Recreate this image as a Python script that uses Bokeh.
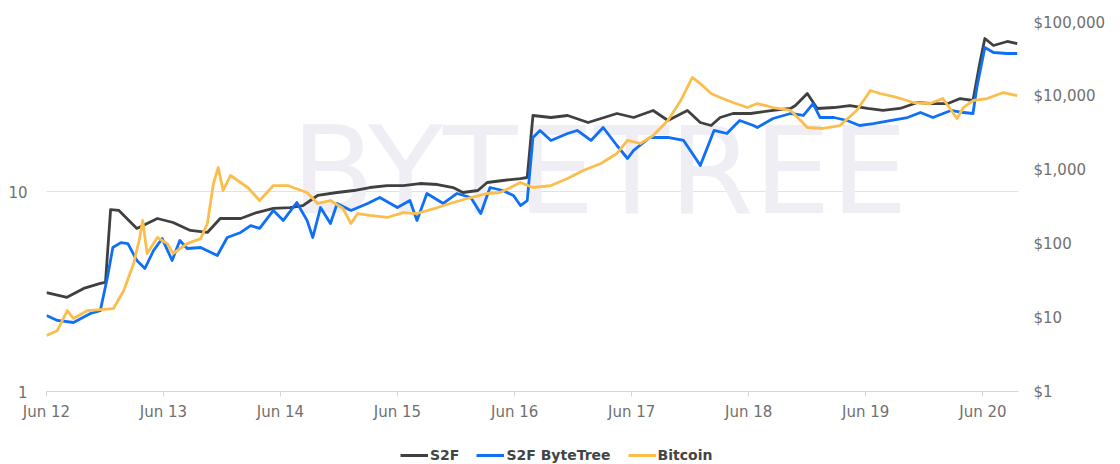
import pandas as pd
from bokeh.plotting import figure
from bokeh.layouts import column
from bokeh.models import (Range1d, LogAxis, LogScale, FixedTicker, DatetimeTickFormatter,
                          NumeralTickFormatter, Legend, LegendItem, Label)
from bokeh.embed import file_html
from bokeh.resources import INLINE

# ---------------- data ----------------
s2f_dates = ["2012-06-01", "2012-08-04", "2012-09-25", "2012-11-16", "2012-12-02", "2012-12-18",
             "2013-01-13", "2013-03-10", "2013-05-13", "2013-07-01", "2013-08-24", "2013-10-16",
             "2013-11-25", "2014-01-28", "2014-03-19", "2014-05-10", "2014-07-01", "2014-08-10",
             "2014-09-25", "2014-11-25", "2015-01-16", "2015-03-07", "2015-04-30", "2015-06-19",
             "2015-08-10", "2015-10-04", "2015-11-22", "2015-12-22", "2016-02-07", "2016-03-07",
             "2016-04-25", "2016-06-19", "2016-07-10", "2016-07-28", "2016-09-22", "2016-11-13",
             "2017-01-16", "2017-02-25", "2017-04-16", "2017-06-07", "2017-08-07", "2017-09-22",
             "2017-11-22", "2018-01-01", "2018-02-04", "2018-03-04", "2018-04-13", "2018-06-07",
             "2018-08-16", "2018-10-10", "2018-10-25", "2018-12-01", "2019-01-01", "2019-02-22",
             "2019-04-13", "2019-06-07", "2019-07-25", "2019-09-16", "2019-11-10", "2019-12-28",
             "2020-02-13", "2020-03-22", "2020-05-01", "2020-05-22", "2020-06-07", "2020-07-04",
             "2020-08-16", "2020-09-16"]
s2f_values = [21.9, 18.9, 24.9, 29.1, 30, 292, 284, 162, 221, 195, 152, 143, 221, 221, 266,
              302, 311, 331, 453, 497, 529, 581, 618, 618, 658, 638, 581, 497, 529, 679,
              723, 769, 794, 5495, 5160, 5495, 4416, 5000, 5848, 5160, 6427, 4699, 6427, 4416,
              4020, 5160, 5848, 5848, 6427, 6839, 7499, 10910, 6839, 7047, 7499, 6839, 6427,
              6839, 8241, 7980, 7980, 9333, 8770, 27800, 60700, 48800, 55300, 51900]

bytetree_dates = ["2012-06-01", "2012-07-05", "2012-08-24", "2012-10-16", "2012-11-16", "2012-12-08",
                  "2012-12-25", "2013-01-19", "2013-02-10", "2013-03-10", "2013-04-04", "2013-05-01",
                  "2013-05-28", "2013-06-28", "2013-07-22", "2013-08-14", "2013-09-25", "2013-11-16",
                  "2013-12-17", "2014-01-28", "2014-02-28", "2014-03-28", "2014-05-10", "2014-06-10",
                  "2014-07-22", "2014-08-23", "2014-09-10", "2014-10-04", "2014-11-04", "2014-11-25",
                  "2015-01-07", "2015-02-28", "2015-04-07", "2015-06-01", "2015-07-10", "2015-08-01",
                  "2015-09-01", "2015-10-22", "2015-12-04", "2016-01-16", "2016-02-16", "2016-03-16",
                  "2016-04-25", "2016-05-28", "2016-06-19", "2016-07-10", "2016-07-28", "2016-08-19",
                  "2016-09-22", "2016-11-13", "2016-12-13", "2017-01-25", "2017-03-04", "2017-04-16",
                  "2017-05-19", "2017-06-07", "2017-07-28", "2017-09-22", "2017-11-10", "2017-12-22",
                  "2018-01-01", "2018-02-13", "2018-03-25", "2018-05-04", "2018-06-16", "2018-06-28",
                  "2018-08-16", "2018-10-10", "2018-11-19", "2018-12-19", "2019-01-10", "2019-02-22",
                  "2019-04-04", "2019-05-13", "2019-06-25", "2019-08-16", "2019-10-10", "2019-11-19",
                  "2019-12-28", "2020-02-22", "2020-04-01", "2020-05-01", "2020-05-13", "2020-06-07",
                  "2020-07-04", "2020-08-16", "2020-09-16"]
bytetree_values = [10.7, 9.17, 8.61, 11.4, 12.5, 35.1, 89.4, 104, 101, 59.6, 46.4, 81.4, 118, 59.6,
                   111, 86.6, 89.4, 69.6, 122, 143, 177, 162, 284, 208, 364, 208, 122, 311, 189,
                   353, 284, 353, 425, 311, 387, 208, 482, 353, 482, 425, 258, 581, 529, 453, 331,
                   387, 2766, 3443, 2520, 3133, 3443, 2520, 3779, 2154, 1436, 1845, 2766, 2766,
                   2520, 1350, 1154, 3443, 3133, 4699, 4020, 3779, 5000, 5848, 5495, 7980, 5160,
                   5160, 4699, 4020, 4278, 4699, 5160, 6030, 5160, 6427, 6030, 5848, 13150, 45800,
                   39200, 38000, 38000]

btc_dates = ["2012-06-01", "2012-07-05", "2012-08-05", "2012-08-24", "2012-10-07", "2012-11-16",
             "2012-12-27", "2013-01-28", "2013-02-28", "2013-03-19", "2013-03-28", "2013-04-11",
             "2013-05-13", "2013-06-13", "2013-07-01", "2013-08-14", "2013-09-25", "2013-10-16",
             "2013-11-04", "2013-11-19", "2013-12-04", "2013-12-27", "2014-02-19", "2014-03-28",
             "2014-05-10", "2014-06-25", "2014-07-10", "2014-08-23", "2014-09-25", "2014-11-04",
             "2014-12-13", "2015-01-07", "2015-01-28", "2015-03-07", "2015-04-30", "2015-06-19",
             "2015-08-01", "2015-10-04", "2015-11-22", "2016-01-16", "2016-03-07", "2016-04-16",
             "2016-05-19", "2016-06-19", "2016-07-28", "2016-09-22", "2016-11-13", "2017-01-01",
             "2017-02-25", "2017-04-16", "2017-05-19", "2017-06-28", "2017-08-07", "2017-09-22",
             "2017-11-01", "2017-12-07", "2018-01-01", "2018-02-04", "2018-03-04", "2018-04-13",
             "2018-05-28", "2018-06-28", "2018-08-16", "2018-10-10", "2018-11-10", "2018-12-01",
             "2019-01-19", "2019-03-13", "2019-05-04", "2019-06-16", "2019-07-16", "2019-09-07",
             "2019-10-28", "2019-12-19", "2020-01-28", "2020-03-12", "2020-04-01", "2020-05-01",
             "2020-06-14", "2020-08-04", "2020-09-16"]
btc_values = [5.74, 6.71, 12.5, 9.75, 12.5, 12.9, 13.3, 23.4, 54.2, 122, 208, 74.1, 122, 101,
              74.1, 101, 118, 189, 658, 1085, 529, 845, 581, 387, 618, 618, 581, 497, 353, 387,
              302, 189, 258, 243, 228, 266, 258, 311, 364, 425, 482, 497, 581, 679, 581, 618,
              769, 988, 1228, 1679, 2520, 2293, 2943, 4699, 8770, 17990, 14890, 10910, 9638,
              8241, 7047, 7980, 7047, 6427, 4699, 3779, 3664, 4020, 6427, 11990, 10910, 9638,
              8241, 7980, 9333, 5000, 7047, 8770, 9333, 11250, 10250]

tick_dates = ["2012-06-01", "2013-06-01", "2014-06-01", "2015-06-01", "2016-06-01",
              "2017-06-01", "2018-06-01", "2019-06-01", "2020-06-01"]
left_ticks = [1, 10]
usd_ticks = [1, 10, 100, 1000, 10000, 100000]
series_names = ["S2F", "S2F ByteTree", "Bitcoin"]
series_colors = ["#404040", "#0f6ff5", "#fbbd4b"]

# ---------------- main figure ----------------
def ms(d):
    return pd.Timestamp(d).value / 1e6

FONT = "DejaVu Sans"
LABEL_COLOR = "#707070"
p = figure(width=1120, height=430, x_axis_type="datetime", y_axis_type="log",
           x_range=Range1d(ms("2012-06-01"), ms("2020-09-20")),
           y_range=Range1d(1, 70.2),
           output_backend="svg", toolbar_location=None,
           min_border_left=46, min_border_right=102, min_border_top=22, min_border_bottom=39)
p.outline_line_color = None
p.background_fill_color = "white"
p.border_fill_color = "white"

p.extra_y_ranges = {"usd": Range1d(1, 100000)}
p.extra_y_scales = {"usd": LogScale()}

la = p.left[0]
la.ticker = FixedTicker(ticks=left_ticks)
la.formatter = NumeralTickFormatter(format="0,0")
la.axis_line_color = None
la.major_tick_line_color = None
la.minor_tick_line_color = None
la.major_label_standoff = 13
la.major_label_text_font = FONT
la.major_label_text_font_size = "15px"
la.major_label_text_color = LABEL_COLOR

ra = LogAxis(y_range_name="usd", ticker=FixedTicker(ticks=usd_ticks),
             formatter=NumeralTickFormatter(format="$0,0"))
ra.axis_line_color = None
ra.major_tick_line_color = None
ra.minor_tick_line_color = None
ra.major_label_standoff = 9
ra.major_label_text_font = FONT
ra.major_label_text_font_size = "15px"
ra.major_label_text_color = LABEL_COLOR
p.add_layout(ra, "right")

xa = p.below[0]
xa.ticker = FixedTicker(ticks=[ms(d) for d in tick_dates])
xa.formatter = DatetimeTickFormatter(years="%b %y", months="%b %y", days="%b %y",
                                     hours="%b %y", minutes="%b %y", seconds="%b %y",
                                     milliseconds="%b %y", microseconds="%b %y")
xa.axis_line_color = "#d6d6d6"
xa.major_tick_line_color = "#d6d6d6"
xa.major_tick_out = 5
xa.major_tick_in = 0
xa.minor_tick_line_color = None
xa.major_label_standoff = 6
xa.major_label_text_font = FONT
xa.major_label_text_font_size = "15px"
xa.major_label_text_color = LABEL_COLOR

p.xgrid.visible = False
p.ygrid.ticker = FixedTicker(ticks=left_ticks)
p.ygrid.grid_line_color = "#e2e2e2"
p.ygrid.grid_line_width = 1

wm = Label(x=ms("2014-07-05"), y=12.7, text="BYTETREE", text_font="DejaVu Sans",
           text_font_size="122px", text_color="#eeeef4", level="underlay",
           text_baseline="alphabetic")
p.add_layout(wm)

styles = dict(line_width=2.8, line_join="round")
for dates, vals, col in [(s2f_dates, s2f_values, series_colors[0]),
                         (bytetree_dates, bytetree_values, series_colors[1]),
                         (btc_dates, btc_values, series_colors[2])]:
    p.line(x=pd.to_datetime(dates), y=vals, y_range_name="usd", line_color=col, **styles)

# ---------------- legend strip ----------------
lg = figure(width=1120, height=34, output_backend="svg", toolbar_location=None,
            x_axis_location=None, y_axis_location=None,
            x_range=Range1d(0, 1), y_range=Range1d(0, 1),
            min_border_left=0, min_border_right=0, min_border_top=0, min_border_bottom=0)
lg.outline_line_color = None
lg.xgrid.visible = False
lg.ygrid.visible = False
# legend keys: renderers kept outside the visible range, only their legend swatches show
keys = [lg.line(x=[-2, -1], y=[-2, -2], line_color=c, line_width=3) for c in series_colors]
legend = Legend(items=[LegendItem(label=n, renderers=[r]) for n, r in zip(series_names, keys)],
                orientation="horizontal", location=(354, 0),
                glyph_width=28, glyph_height=18, label_standoff=2, spacing=17,
                padding=0, margin=0, border_line_color=None, background_fill_alpha=0,
                label_text_font=FONT, label_text_font_size="14px",
                label_text_font_style="bold", label_text_color="#444444")
lg.add_layout(legend, "center")

open("out.html", "w").write(file_html(column(p, lg, spacing=0), INLINE))
